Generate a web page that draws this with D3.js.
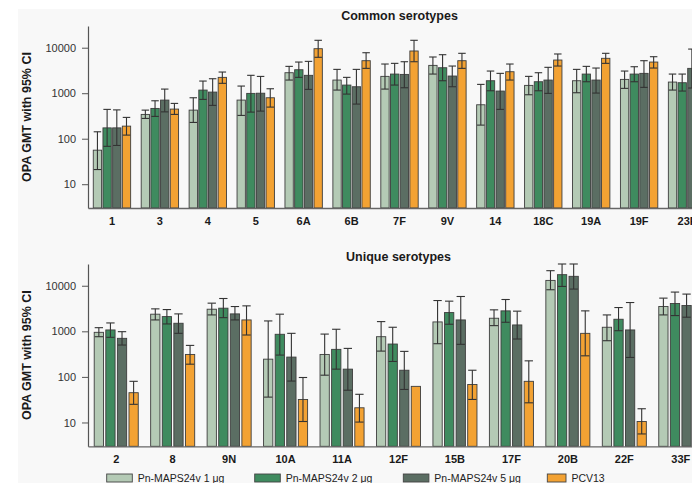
<!DOCTYPE html>
<html>
<head>
<meta charset="utf-8">
<script src="https://cdn.jsdelivr.net/npm/d3@7/dist/d3.min.js"></script>
<style>
  html, body { margin: 0; padding: 0; background: #ffffff; }
  svg { display: block; overflow: hidden; font-family: "Liberation Sans", Arial, sans-serif; }
</style>
</head>
<body>
<svg id="chart" width="692" height="483"></svg>
<script>
// Dose groups (legend order)
const groups = ["Pn-MAPS24v 1 μg", "Pn-MAPS24v 2 μg", "Pn-MAPS24v 5 μg", "PCV13"];
const groupColors = ["#b4cab5", "#3f8b5f", "#5b6e63", "#f3a233"];

// Serotype categories
const commonSerotypes = ["1", "3", "4", "5", "6A", "6B", "7F", "9V", "14", "18C", "19A", "19F", "23F"];
const uniqueSerotypes = ["2", "8", "9N", "10A", "11A", "12F", "15B", "17F", "20B", "22F", "33F"];

// OPA GMT with 95% CI: [GMT, lower, upper] per serotype
const common1ug  = [[56,21,142],[342,279,425],[425,228,794],[706,325,1436],[2820,1946,3890],[1946,1172,3340],[2345,1232,4380],[4090,2635,6250],[557,199,1563],[1486,925,2345],[1880,1024,3340],[2013,1277,3070],[1758,1172,2635]];
const common2ug  = [[173,68,441],[463,309,682],[1172,731,1850],[991,384,2473],[3280,2230,4840],[1510,956,2230],[2635,1510,4530],[3630,1880,7020],[1880,1132,3070],[1787,1132,2820],[2635,1787,3890],[2635,1787,3820],[1700,1115,2635]];
const common5ug  = [[173,71,430],[706,389,1232],[1059,540,2080],[1000,404,2340],[2473,1213,5010],[1387,577,3340],[2590,1318,4920],[2385,1387,3955],[1115,441,2730],[1946,991,3705],[1946,1007,3575],[2730,1343,5180],[3515,1300,9330]];
const commonPcv13 = [[189,120,294],[448,342,597],[2230,1648,2920],[794,495,1253],[9510,6150,14550],[5180,3515,7760],[8470,4920,14550],[5180,3515,7530],[2966,1946,4380],[5360,3955,7280],[5850,4530,7530],[4840,3575,6340],[4000,2800,5600]];

const unique1ug  = [[951,762,1202],[2377,1778,3110],[3055,2290,4150],[245,36,1690],[311,109,870],[762,368,1634],[1607,535,4740],[1937,1333,2960],[13100,8170,21400],[1228,622,2290],[3500,2290,5350]];
const unique2ug  = [[1072,738,1527],[2105,1452,3000],[3220,1995,5250],[861,301,2377],[402,148,1110],[526,218,1228],[2577,1430,4590],[2810,1580,4990],[17500,9660,30000],[1840,1032,3325],[4070,2215,7260]];
const unique5ug  = [[702,500,982],[1503,903,2412],[2412,1778,3500],[272,81,903],[148,51,422],[140,53,363],[1778,518,5810],[1380,678,2770],[16100,8450,30000],[1072,267,4285],[3680,2040,6560]];
const uniquePcv13 = [[45,25,80],[311,190,491],[1778,830,3620],[32,10.5,97],[21,10.2,41.5],[62,null,null],[68,32,140],[80,27,225],[903,290,2810],[10.5,5.6,20],[60,30,120]];

const yTicks = [10, 100, 1000, 10000];
const yDomain = [3, 30000];

const svg = d3.select("#chart");

// Light panel behind the figure
svg.append("rect").attr("x", 18).attr("y", 9).attr("width", 700).attr("height", 500).attr("fill", "#f8f8f8");

function drawPanel(opts) {
  const { title, cats, series, top, bottom, left, right, titleY, innerPad } = opts;
  const g = svg.append("g");

  const x0 = d3.scaleBand().domain(cats).range([left, right]).padding(0);
  const bw = x0.bandwidth();
  const x1 = d3.scaleBand().domain(groups).range([bw * 0.11, bw * 0.89]).paddingInner(innerPad);
  const y = d3.scaleLog().domain(yDomain).range([bottom, top]);

  // bars
  series.forEach((vals, si) => {
    const gs = g.append("g");
    gs.selectAll("rect").data(vals.map((v, i) => ({ cat: cats[i], v })))
      .join("rect")
      .attr("x", d => x0(d.cat) + x1(groups[si]))
      .attr("y", d => y(d.v[0]))
      .attr("width", x1.bandwidth())
      .attr("height", d => bottom - y(d.v[0]))
      .attr("fill", groupColors[si])
      .attr("stroke", "#3d3d3d")
      .attr("stroke-width", 0.9);
  });

  // 95% CI whiskers
  series.forEach((vals, si) => {
    const ge = g.append("g").attr("stroke", "#333").attr("stroke-width", 1.1).attr("fill", "none");
    vals.forEach((v, i) => {
      if (v[1] == null) return;
      const cx = x0(cats[i]) + x1(groups[si]) + x1.bandwidth() / 2;
      const hw = x1.bandwidth() * 0.45;
      const yl = y(v[1]), yh = y(v[2]);
      ge.append("line").attr("x1", cx).attr("x2", cx).attr("y1", yl).attr("y2", yh);
      ge.append("line").attr("x1", cx - hw).attr("x2", cx + hw).attr("y1", yh).attr("y2", yh);
      ge.append("line").attr("x1", cx - hw).attr("x2", cx + hw).attr("y1", yl).attr("y2", yl);
    });
  });

  // y axis
  const ya = g.append("g").attr("transform", `translate(${left},0)`)
    .call(d3.axisLeft(y).tickValues(yTicks).tickFormat(d3.format("d")).tickSize(6).tickPadding(6).tickSizeOuter(0));
  ya.select(".domain").attr("stroke", "#555").attr("stroke-width", 1.2);
  ya.selectAll(".tick line").attr("stroke", "#555");
  ya.selectAll(".tick text").attr("fill", "#333").style("font-size", "11px");

  // x axis
  const xa = g.append("g").attr("transform", `translate(0,${bottom})`)
    .call(d3.axisBottom(x0).tickSize(0).tickPadding(9).tickSizeOuter(0));
  xa.select(".domain").attr("stroke", "#666").attr("stroke-width", 1.3);
  xa.selectAll(".tick text").attr("fill", "#1a1a1a").style("font-size", "11px").style("font-weight", "bold");

  // panel title
  g.append("text").attr("x", (left + right) / 2).attr("y", titleY)
    .attr("text-anchor", "middle").style("font-size", "12.5px").style("font-weight", "bold").attr("fill", "#1a1a1a")
    .text(title);

  // y axis title
  g.append("text").attr("transform", `translate(30.5,${(top + bottom) / 2}) rotate(-90)`)
    .attr("text-anchor", "middle").style("font-size", "12.5px").style("font-weight", "bold").attr("fill", "#1a1a1a")
    .text("OPA GMT with 95% CI");
}

drawPanel({
  title: "Common serotypes", cats: commonSerotypes,
  series: [common1ug, common2ug, common5ug, commonPcv13],
  top: 26, bottom: 208, left: 88, right: 711, titleY: 19.5, innerPad: 0.14
});

drawPanel({
  title: "Unique serotypes", cats: uniqueSerotypes,
  series: [unique1ug, unique2ug, unique5ug, uniquePcv13],
  top: 264, bottom: 446.3, left: 88, right: 709, titleY: 261, innerPad: 0.2
});

// legend
const legendX = [106.7, 254.7, 403.3, 547.3];
const legendW = [25.6, 25.6, 25.6, 18.7];
const lg = svg.append("g");
groups.forEach((name, i) => {
  lg.append("rect").attr("x", legendX[i]).attr("y", 474).attr("width", legendW[i]).attr("height", 8)
    .attr("fill", groupColors[i]).attr("stroke", "#444").attr("stroke-width", 0.9);
  lg.append("text").attr("x", legendX[i] + legendW[i] + 5.4).attr("y", 482)
    .style("font-size", "10.5px").attr("fill", "#222").text(name);
});
</script>
</body>
</html>
